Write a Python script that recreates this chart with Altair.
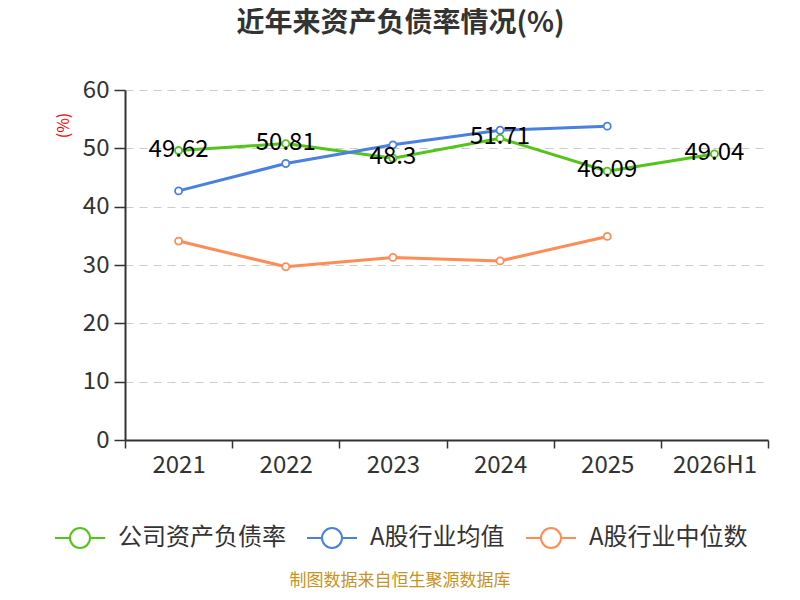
import altair as alt
import pandas as pd

years = ["2021", "2022", "2023", "2024", "2025", "2026H1"]
company = [49.62, 50.81, 48.3, 51.71, 46.09, 49.04]
industry_avg = [42.7, 47.4, 50.6, 53.1, 53.8, None]
industry_median = [34.1, 29.7, 31.3, 30.7, 34.9, None]

series_names = ["公司资产负债率", "A股行业均值", "A股行业中位数"]
series_colors = ["#52c41a", "#4a80e0", "#ff8c55"]

FONT = "Noto Sans CJK SC"

rows = []
for name, vals in zip(series_names, [company, industry_avg, industry_median]):
    for i, (yr, v) in enumerate(zip(years, vals)):
        if v is not None:
            rows.append({"year": yr, "value": v, "series": name, "order": i})
df = pd.DataFrame(rows)

x_enc = alt.X("year:N", sort=years,
              scale=alt.Scale(type="band", paddingInner=0, paddingOuter=0),
              axis=alt.Axis(title=None, labelAngle=0, tickBand="extent", tickSize=8,
                            tickColor="#333", tickWidth=1.5, domainColor="#333", domainWidth=2,
                            labelFontSize=24, labelColor="#333", labelPadding=5, labelFont=FONT))
y_enc = alt.Y("value:Q", scale=alt.Scale(domain=[0, 60], nice=False),
              axis=alt.Axis(values=[0, 10, 20, 30, 40, 50, 60], grid=True, gridDash=[8, 6],
                            gridColor="#cccccc", gridWidth=1.2, domainColor="#333", domainWidth=2,
                            tickColor="#333", tickSize=11, tickWidth=1.5,
                            labelFontSize=24, labelColor="#333", labelPadding=5, labelFont=FONT,
                            title="(%)", titleColor="red", titleFontSize=16, titleFontWeight="normal",
                            titleFont=FONT, titleX=-62, titleY=35, titleAlign="center",
                            titleBaseline="middle"))
color_enc = alt.Color("series:N",
                      scale=alt.Scale(domain=series_names, range=series_colors),
                      legend=alt.Legend(title=None, orient="none", direction="horizontal",
                                        legendX=-71, legendY=422,
                                        symbolType="M-1,0H-0.4M0.4,0H1M-0.4,0A0.4,0.4 0 1,1 0.4,0A0.4,0.4 0 1,1 -0.4,0",
                                        symbolSize=2500, symbolStrokeWidth=2, symbolFillColor="white",
                                        labelFontSize=24, labelColor="#333", labelFont=FONT,
                                        labelLimit=400, labelOffset=12, columnPadding=17))

base = alt.Chart(df).encode(x=x_enc, y=y_enc, color=color_enc, order="order:Q")

lines = base.mark_line(strokeWidth=3)
points = base.mark_point(shape="circle", filled=False, fill="white", fillOpacity=1,
                         size=50, strokeWidth=1.8, opacity=1)
labels = alt.Chart(df[df["series"] == series_names[0]]).mark_text(
    fontSize=24, color="black", font=FONT, baseline="middle", dy=-1
).encode(x=alt.X("year:N", sort=years), y="value:Q", text=alt.Text("value:Q"))

footer = alt.Chart(pd.DataFrame({"t": ["制图数据来自恒生聚源数据库"]})).mark_text(
    fontSize=17, color="#c8921e", font=FONT, baseline="middle", align="center"
).encode(x=alt.value(275), y=alt.value(491), text="t:N")

chart = alt.layer(lines, points, labels, footer).properties(
    width=643, height=350,
    autosize=alt.AutoSizeParams(type="none"),
    padding={"left": 117, "top": 82, "right": 10, "bottom": 152},
    title=alt.TitleParams("近年来资产负债率情况(%)", fontSize=28, fontWeight="bold", color="#333",
                          font=FONT, anchor="middle", frame="group", dx=-46, offset=40),
).configure_view(stroke=None)

chart.save("out.html", embed_options={"renderer": "svg", "actions": False})
